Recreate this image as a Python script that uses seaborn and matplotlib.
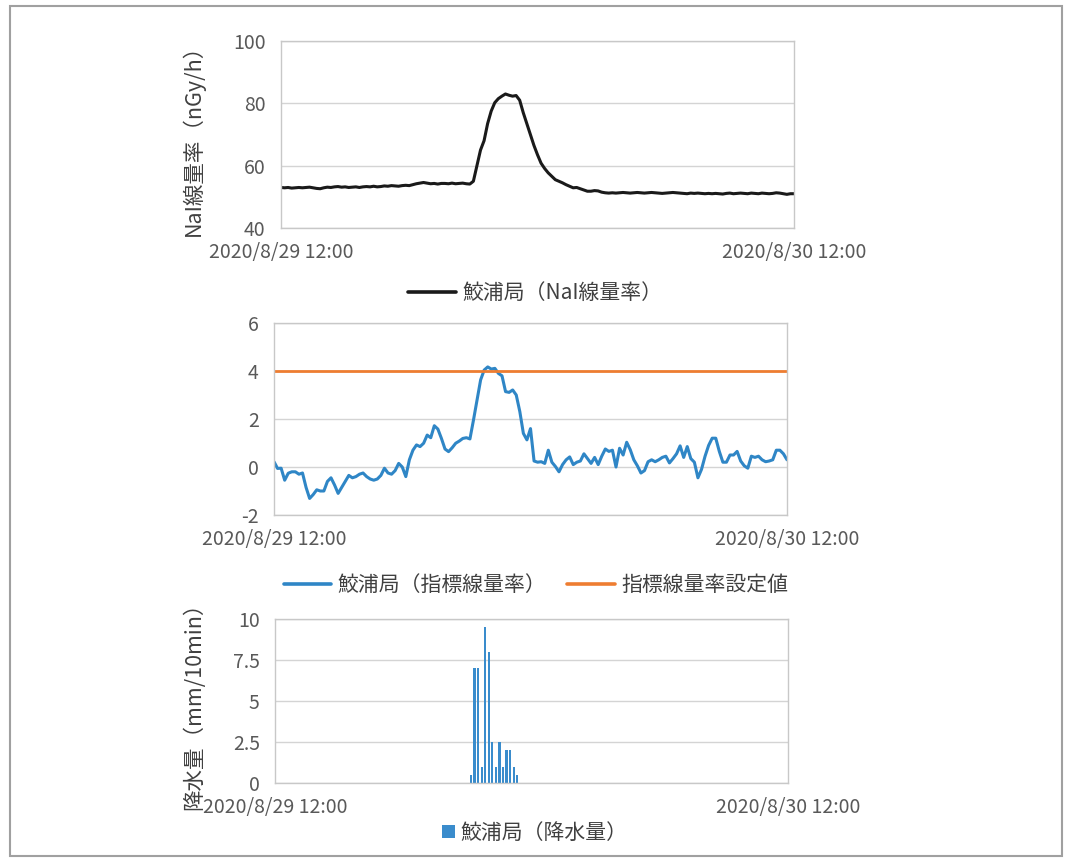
import numpy as np
import pandas as pd
import matplotlib
matplotlib.use("Agg")
import matplotlib.pyplot as plt
import seaborn as sns
from matplotlib.lines import Line2D
from matplotlib.patches import Patch, Rectangle

# ---------------- data ----------------
# 10-minute samples from 2020/8/29 12:00 to 2020/8/30 12:00 (hours since start)
hours = np.arange(145) / 6.0
x_tick_hours = [0, 24]
x_tick_labels = ["2020/8/29 12:00", "2020/8/30 12:00"]

nai_rate = [
    53.0, 52.9, 53.0, 52.8, 52.9, 53.0, 52.9, 53.0, 53.1, 52.9,
    52.7, 52.6, 52.9, 53.1, 53.0, 53.2, 53.3, 53.1, 53.2, 53.0,
    53.1, 53.2, 53.0, 53.2, 53.3, 53.2, 53.4, 53.2, 53.3, 53.5,
    53.4, 53.6, 53.5, 53.4, 53.6, 53.7, 53.6, 53.9, 54.2, 54.4,
    54.6, 54.4, 54.2, 54.3, 54.1, 54.3, 54.3, 54.2, 54.4, 54.2,
    54.3, 54.4, 54.2, 54.1, 55.0, 60.0, 65.0, 68.0, 73.5, 77.5,
    80.2, 81.5, 82.3, 83.0, 82.6, 82.3, 82.5, 81.0, 77.0, 73.5,
    70.0, 66.5, 63.5, 60.8, 59.1, 57.7, 56.6, 55.5, 55.0, 54.5,
    53.9, 53.4, 52.9, 53.0, 52.6, 52.2, 51.8, 51.8, 52.0, 51.9,
    51.5, 51.3, 51.2, 51.3, 51.2, 51.3, 51.4, 51.3, 51.2, 51.3,
    51.4, 51.3, 51.2, 51.3, 51.4, 51.3, 51.2, 51.1, 51.2, 51.3,
    51.4, 51.3, 51.2, 51.1, 51.0, 51.2, 51.1, 51.2, 51.1, 51.0,
    51.1, 51.0, 51.1, 51.0, 50.9, 51.1, 51.2, 51.0, 51.1, 51.2,
    51.1, 51.0, 51.2, 51.1, 51.0, 51.2, 51.1, 51.0, 51.1, 51.3,
    51.2, 51.0, 50.8, 51.0, 51.0,
]

index_rate = [
    0.22, -0.06, -0.05, -0.55, -0.26, -0.2, -0.2, -0.3, -0.25, -0.85,
    -1.31, -1.15, -0.95, -1.0, -1.0, -0.6, -0.45, -0.75, -1.1, -0.85,
    -0.6, -0.35, -0.45, -0.4, -0.3, -0.25, -0.4, -0.5, -0.55, -0.5,
    -0.35, -0.05, -0.25, -0.3, -0.15, 0.15, 0.0, -0.4, 0.3, 0.7,
    0.92, 0.85, 0.99, 1.33, 1.22, 1.72, 1.58, 1.19, 0.75, 0.64,
    0.8, 0.99, 1.08, 1.19, 1.22, 1.17, 1.96, 2.79, 3.63, 4.04,
    4.17, 4.08, 4.11, 3.9, 3.8, 3.14, 3.11, 3.21, 3.0, 2.31,
    1.4, 1.13, 1.6, 0.25, 0.2, 0.22, 0.15, 0.7, 0.2, 0.02,
    -0.2, 0.1, 0.3, 0.42, 0.1, 0.2, 0.25, 0.55, 0.35, 0.15,
    0.4, 0.1, 0.45, 0.75, 0.65, 0.7, 0.0, 0.78, 0.5, 1.03,
    0.72, 0.3, 0.05, -0.25, -0.15, 0.22, 0.3, 0.22, 0.3, 0.4,
    0.45, 0.17, 0.35, 0.55, 0.88, 0.4, 0.85, 0.35, 0.2, -0.45,
    -0.1, 0.45, 0.9, 1.2, 1.2, 0.65, 0.2, 0.2, 0.5, 0.5,
    0.65, 0.25, 0.05, -0.05, 0.45, 0.4, 0.45, 0.3, 0.22, 0.25,
    0.3, 0.7, 0.7, 0.55, 0.3,
]

threshold_hours = [0, 24]
threshold_values = [4.0, 4.0]

rain_start = 55  # first 10-min sample with rainfall
rain_values = [0.5, 7.0, 7.0, 1.0, 9.5, 8.0, 2.5, 1.0, 2.5, 1.0, 2.0, 2.0, 1.0, 0.5]
rain_hours = hours[rain_start:rain_start + len(rain_values)]

nai_label = "鮫浦局（NaI線量率）"
index_label = "鮫浦局（指標線量率）"
threshold_label = "指標線量率設定値"
rain_label = "鮫浦局（降水量）"
nai_ylabel = "NaI線量率（nGy/h）"
rain_ylabel = "降水量（mm/10min）"

# ---------------- style ----------------
sns.set_theme(style="white")
plt.rcParams["font.family"] = ["Noto Sans CJK JP", "DejaVu Sans"]
plt.rcParams["axes.unicode_minus"] = False

TICK_COLOR = "#595959"
GRID_COLOR = "#d4d4d4"
SPINE_COLOR = "#c8c8c8"
BLUE = "#2f86c6"
ORANGE = "#ee7d31"
BAR_BLUE = "#3a8ccc"
TEXT = "#404040"

W, H = 1065, 860
fig = plt.figure(figsize=(W / 100, H / 100), dpi=100)
fig.patch.set_facecolor("white")


def px_axes(left, right, top, bottom):
    return fig.add_axes([left / W, 1 - bottom / H, (right - left) / W, (bottom - top) / H])


def style_axes(ax):
    ax.set_facecolor("white")
    for s in ax.spines.values():
        s.set_visible(True)
        s.set_color(SPINE_COLOR)
        s.set_linewidth(1.0)
    ax.grid(axis="y", color=GRID_COLOR, linewidth=1.0)
    ax.grid(axis="x", visible=False)
    ax.set_axisbelow(True)
    ax.tick_params(axis="both", length=0, labelsize=14, colors=TICK_COLOR)
    ax.tick_params(axis="y", pad=11)
    ax.tick_params(axis="x", pad=10)
    ax.set_xlim(0, 24)
    ax.set_xticks(x_tick_hours)
    ax.set_xticklabels(x_tick_labels)
    ax.set_xlabel("")
    ax.set_ylabel("")


# ---- top: NaI dose rate ----
ax1 = px_axes(281, 794, 41, 228)
sns.lineplot(x=hours, y=nai_rate, ax=ax1, color="#1a1a1a", linewidth=2.2, legend=False)
style_axes(ax1)
ax1.set_ylim(40, 100)
ax1.set_yticks([40, 60, 80, 100])
ax1.set_ylabel(nai_ylabel, fontsize=15.5, color=TEXT)
ax1.yaxis.set_label_coords(-0.148, 0.5)
fig.legend(handles=[Line2D([], [], color="#1a1a1a", lw=2.6)], labels=[nai_label],
           loc="center", bbox_to_anchor=(535 / W, 1 - 293 / H), frameon=False,
           fontsize=15, handlelength=2.3, handletextpad=0.3, labelcolor=TEXT)

# ---- middle: index dose rate ----
ax2 = px_axes(274, 787, 323, 515)
sns.lineplot(x=hours, y=index_rate, ax=ax2, color=BLUE, linewidth=2.2, legend=False)
sns.lineplot(x=threshold_hours, y=threshold_values, ax=ax2, color=ORANGE, linewidth=2.0, legend=False)
style_axes(ax2)
ax2.set_ylim(-2, 6)
ax2.set_yticks([-2, 0, 2, 4, 6])
fig.legend(handles=[Line2D([], [], color=BLUE, lw=2.6), Line2D([], [], color=ORANGE, lw=2.6)],
           labels=[index_label, threshold_label], ncol=2,
           loc="center", bbox_to_anchor=(536 / W, 1 - 585 / H), frameon=False,
           fontsize=15, handlelength=2.3, handletextpad=0.3, columnspacing=1.0,
           labelcolor=TEXT)

# ---- bottom: rainfall ----
ax3 = px_axes(275, 788, 619, 783)
sns.barplot(x=rain_hours, y=rain_values, ax=ax3, native_scale=True, width=0.6,
            color=BAR_BLUE, saturation=1.0, errorbar=None, linewidth=0)
style_axes(ax3)
ax3.set_ylim(0, 10)
ax3.set_yticks([0, 2.5, 5, 7.5, 10])
ax3.set_yticklabels(["0", "2.5", "5", "7.5", "10"])
ax3.set_ylabel(rain_ylabel, fontsize=15.5, color=TEXT)
ax3.yaxis.set_label_coords(-0.136, 0.5)
fig.legend(handles=[Patch(facecolor=BAR_BLUE, edgecolor="none")], labels=[rain_label],
           loc="center", bbox_to_anchor=(535 / W, 1 - 833 / H), frameon=False,
           fontsize=15, handlelength=0.6, handleheight=0.6, handletextpad=0.3,
           labelcolor=TEXT)

# outer frame of the figure panel
fig.patches.append(Rectangle((10 / W, 1 - 856 / H), 1052 / W, 850 / H, transform=fig.transFigure,
                             fill=False, edgecolor="#a0a0a0", linewidth=1.5))

fig.savefig("out.png", dpi=100, facecolor="white")
